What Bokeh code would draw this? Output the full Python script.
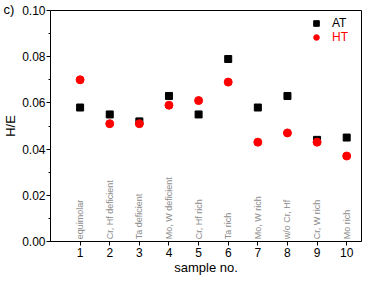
import math
from bokeh.plotting import figure
from bokeh.models import (Range1d, FixedTicker, PrintfTickFormatter,
                          Legend, LegendItem, ColumnDataSource)
from bokeh.core.properties import value
from bokeh.embed import file_html
from bokeh.resources import INLINE

samples = [1, 2, 3, 4, 5, 6, 7, 8, 9, 10]
at_values = [0.058, 0.055, 0.052, 0.063, 0.055, 0.079, 0.058, 0.063, 0.044, 0.045]
ht_values = [0.070, 0.051, 0.051, 0.059, 0.061, 0.069, 0.043, 0.047, 0.043, 0.037]
sample_names = ["equimolar", "Cr, Hf deficient", "Ta deficient", "Mo, W deficient",
                "Cr, Hf rich", "Ta rich", "Mo, W rich", "w/o Cr, Hf", "Cr, W rich", "Mo rich"]
y_ticks = [0.0, 0.02, 0.04, 0.06, 0.08, 0.10]
y_minor = [0.01, 0.03, 0.05, 0.07, 0.09]

FONT = "Liberation Sans"

p = figure(frame_width=311, frame_height=231, output_backend="svg", toolbar_location=None,
           x_range=Range1d(0, 10.5), y_range=Range1d(0, 0.1),
           min_border_left=49, min_border_right=13, min_border_top=10, min_border_bottom=35)
p.grid.visible = False
p.background_fill_color = "white"
p.border_fill_color = "white"
p.outline_line_color = "black"
p.outline_line_width = 1

# panel letter as title
p.title.text = "c)"
p.title.align = "left"
p.title.offset = -47
p.title.standoff = -12
p.title.text_font = FONT
p.title.text_font_size = "13px"
p.title.text_font_style = "normal"
p.title.text_color = "black"

# axes
p.xaxis.ticker = FixedTicker(ticks=samples)
p.yaxis.ticker = FixedTicker(ticks=y_ticks, minor_ticks=y_minor)
p.yaxis.formatter = PrintfTickFormatter(format="%.2f")
for ax in (p.xaxis[0], p.yaxis[0]):
    ax.axis_line_color = "black"
    ax.major_tick_line_color = "black"
    ax.minor_tick_line_color = "black"
    ax.major_tick_out = 4
    ax.major_tick_in = 0
    ax.minor_tick_out = 2
    ax.minor_tick_in = 0
    ax.major_label_text_font = FONT
    ax.major_label_text_font_size = "12px"
    ax.major_label_text_color = "black"
    ax.axis_label_text_font = FONT
    ax.axis_label_text_font_style = "normal"
    ax.axis_label_text_font_size = "13px"
    ax.axis_label_text_color = "black"
p.xaxis.major_label_standoff = 2
p.yaxis.major_label_standoff = 1
p.xaxis.axis_label = "sample no."
p.xaxis.axis_label_standoff = 0
p.yaxis.axis_label = "H/E"
p.yaxis.axis_label_standoff = 1

src = ColumnDataSource(dict(x=samples, at=at_values, ht=ht_values, names=sample_names,
                            ly=[0.001] * len(samples)))

r_at = p.scatter("x", "at", source=src, marker="square", size=7, color="black")
r_ht = p.scatter("x", "ht", source=src, marker="circle", size=8, color="red")

p.text("x", "ly", text="names", source=src, angle=math.pi / 2,
       text_align="left", text_baseline="middle", text_font=value(FONT),
       text_font_size="9px", text_color="#8c8c8c")

# legends (location = bottom-left corner, from frame bottom-left)
for rend, lab, col, vy in ((r_at, "AT", "black", 211), (r_ht, "HT", "red", 197)):
    lg = Legend(items=[LegendItem(label=lab, renderers=[rend])], location=(259, vy),
                padding=0, margin=0, spacing=0, glyph_width=14, glyph_height=14,
                label_height=14, label_standoff=9, border_line_color=None,
                background_fill_alpha=0, label_text_font=FONT,
                label_text_font_size="12px", label_text_color=col)
    p.add_layout(lg)

open("out.html", "w").write(file_html(p, INLINE))
